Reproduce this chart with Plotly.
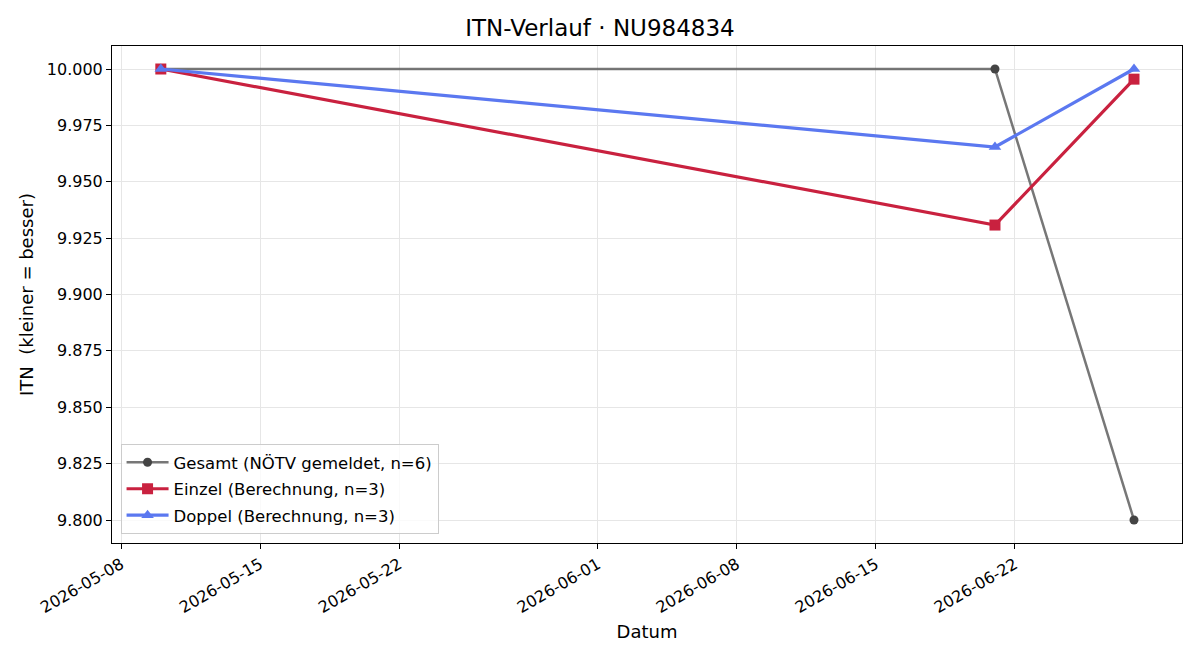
import plotly.graph_objects as go

dates = ["2026-05-10", "2026-06-21", "2026-06-28"]
gesamt = [10.0, 10.0, 9.8]
einzel = [10.0, 9.9308, 9.9955]
doppel = [10.0, 9.9654, 10.0]
tick_dates = ["2026-05-08", "2026-05-15", "2026-05-22", "2026-06-01", "2026-06-08", "2026-06-15", "2026-06-22"]
y_ticks = [9.800, 9.825, 9.850, 9.875, 9.900, 9.925, 9.950, 9.975, 10.000]

font = "DejaVu Sans"
fig = go.Figure()
fig.add_trace(go.Scatter(x=dates, y=gesamt, mode="lines+markers", name="Gesamt (NÖTV gemeldet, n=6)",
                         legendgroup="g", line=dict(color="rgba(85,85,85,0.8)", width=2.5),
                         marker=dict(symbol="circle", size=9, color="#444444")))
fig.add_trace(go.Scatter(x=dates, y=einzel, mode="lines+markers", name="Einzel (Berechnung, n=3)",
                         legendgroup="e", line=dict(color="#c9213f", width=3.2),
                         marker=dict(symbol="square", size=11, color="#c9213f")))
fig.add_trace(go.Scatter(x=dates, y=doppel, mode="lines+markers", name="Doppel (Berechnung, n=3)",
                         legendgroup="d", line=dict(color="#5b78f0", width=3.2),
                         marker=dict(symbol="triangle-up", size=11, color="#5b78f0")))

fig.update_layout(
    width=1200, height=660,
    margin=dict(l=112, r=18, t=46, b=117),
    paper_bgcolor="white", plot_bgcolor="white",
    font=dict(family=font, size=16, color="black"),
    title=dict(text="ITN-Verlauf · NU984834", x=0.5, xanchor="center", y=0.957, yanchor="middle",
               font=dict(size=23, family=font)),
    legend=dict(x=0.008, y=0.018, xanchor="left", yanchor="bottom",
                bordercolor="#cccccc", borderwidth=1, bgcolor="rgba(255,255,255,0.8)",
                font=dict(size=16.5, family=font), tracegroupgap=2, itemwidth=42),
    showlegend=True,
)
fig.update_xaxes(
    type="date", range=["2026-05-07 13:00", "2026-06-30 10:00"],
    tickvals=tick_dates, ticktext=tick_dates, tickangle=-30,
    showgrid=True, gridcolor="#e6e6e6", gridwidth=1,
    showline=True, linecolor="black", linewidth=1, mirror=True,
    ticks="outside", ticklen=5, tickcolor="black", tickfont=dict(size=16),
    title=dict(text="Datum", font=dict(size=18), standoff=9), zeroline=False,
)
fig.update_yaxes(
    range=[9.7898, 10.0102], tickvals=y_ticks, ticktext=[f"{v:.3f}" for v in y_ticks],
    showgrid=True, gridcolor="#e6e6e6", gridwidth=1,
    showline=True, linecolor="black", linewidth=1, mirror=True,
    ticks="outside", ticklen=5, tickcolor="black", tickfont=dict(size=16),
    title=dict(text="ITN  (kleiner = besser)", font=dict(size=18), standoff=8), zeroline=False,
)
fig.write_html("out.html")
